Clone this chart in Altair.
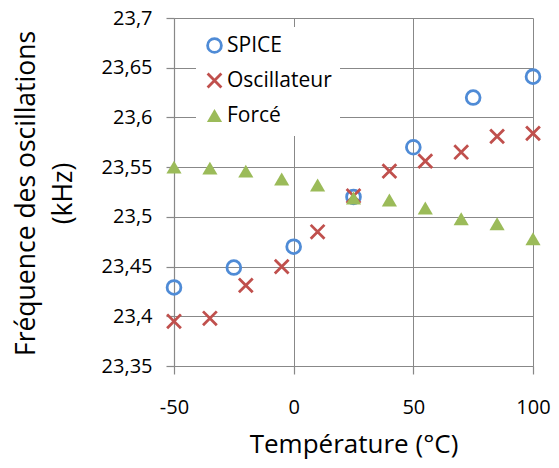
import altair as alt
import pandas as pd

series_names = ["SPICE", "Oscillateur", "Forcé"]

temps_spice = [-50, -25, 0, 25, 50, 75, 100]
freq_spice = [23.429, 23.449, 23.470, 23.520, 23.570, 23.620, 23.641]

temps_osc = [-50, -35, -20, -5, 10, 25, 40, 55, 70, 85, 100]
freq_osc = [23.395, 23.398, 23.431, 23.450, 23.485, 23.521, 23.546, 23.556, 23.565, 23.581, 23.584]

temps_force = [-50, -35, -20, -5, 10, 25, 40, 55, 70, 85, 100]
freq_force = [23.550, 23.549, 23.546, 23.538, 23.532, 23.519, 23.517, 23.509, 23.498, 23.493, 23.478]

x_ticks = [-50, 0, 50, 100]
y_ticks = [23.35, 23.4, 23.45, 23.5, 23.55, 23.6, 23.65, 23.7]

rows = []
for name, xs, ys in [("SPICE", temps_spice, freq_spice),
                     ("Oscillateur", temps_osc, freq_osc),
                     ("Forcé", temps_force, freq_force)]:
    for t, f in zip(xs, ys):
        rows.append({"serie": name, "temp": t, "freq": f})
df = pd.DataFrame(rows)

FONT = "Open Sans"
GRID = "#888888"
blue, red, green = "#4F8BD6", "#C0504D", "#9BBB59"
xpath = "M-1,-1L1,1M1,-1L-1,1"
tripath = "M0,-0.94L1.1,0.94L-1.1,0.94Z"

legend = alt.Legend(
    title=None, orient="none", legendX=22, legendY=9, fillColor="white",
    padding=8, labelFont=FONT, labelFontSize=21, labelColor="black",
    symbolSize=190, symbolStrokeWidth=2.8, rowPadding=10, labelOffset=2,
)

chart = alt.Chart(df).mark_point(size=190, strokeWidth=2.8, opacity=1).encode(
    x=alt.X("temp:Q", scale=alt.Scale(domain=[-50, 100], nice=False, zero=False),
            axis=alt.Axis(values=x_ticks, title="Température (°C)", tickSize=8,
                          labelPadding=23, labelFlush=False,
                          labelExpr="'' + datum.value",
                          titleFontSize=26, titleFontWeight="normal",
                          titleBaseline="alphabetic", titleY=86, titleX=179.5,
                          titleAlign="center")),
    y=alt.Y("freq:Q", scale=alt.Scale(domain=[23.35, 23.7], nice=False, zero=False),
            axis=alt.Axis(values=y_ticks, title=["Fréquence des oscillations", "(kHz)"],
                          labelExpr="replace(format(datum.value, '.2~f'), '.', ',')",
                          tickSize=8, labelPadding=14, labelFlush=False,
                          titleFontSize=26.5,
                          titleFontWeight="normal", titleAngle=270,
                          titleBaseline="alphabetic", titleAlign="center",
                          titleX=-140, titleY=175, titleLineHeight=37)),
    shape=alt.Shape("serie:N", scale=alt.Scale(domain=series_names,
                    range=["circle", xpath, tripath]), legend=legend),
    stroke=alt.Stroke("serie:N", scale=alt.Scale(domain=series_names,
                      range=[blue, red, "transparent"]), legend=legend),
    fill=alt.Fill("serie:N", scale=alt.Scale(domain=series_names,
                  range=["transparent", "transparent", green]), legend=legend),
    order=alt.Order("ord:Q"),
).transform_calculate(
    ord="datum.serie == 'SPICE' ? 0 : (datum.serie == 'Oscillateur' ? 1 : 2)"
).properties(
    width=359, height=348,
    autosize=alt.AutoSizeParams(type="none"),
    padding={"left": 166, "top": 10, "right": 18, "bottom": 94},
).configure_axis(
    labelFont=FONT, labelFontSize=20, labelColor="black",
    titleFont=FONT, titleColor="black",
    gridColor=GRID, gridWidth=1, gridOpacity=1,
    domainColor=GRID, domainWidth=1.2, tickColor=GRID, tickWidth=1.2,
).configure_view(stroke=None)

chart.save("out.html", embed_options={"renderer": "svg", "actions": False})
